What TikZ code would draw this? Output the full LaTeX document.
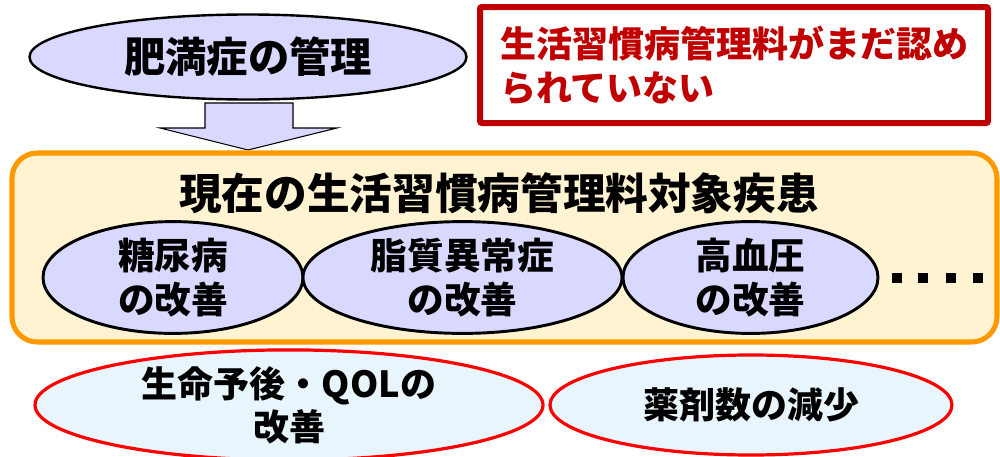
\documentclass[tikz,border=0pt]{standalone}
\usepackage{fontspec}
\setmainfont{Noto Sans CJK JP}
\usetikzlibrary{shapes.geometric}
\definecolor{lav}{HTML}{D9D9FF}
\definecolor{lblue}{HTML}{E8F5FD}
\definecolor{obord}{HTML}{FF9900}
\definecolor{ofill}{HTML}{FFF3D1}
\definecolor{dred}{HTML}{C00000}
\definecolor{bred}{HTML}{FF0000}
\begin{document}
\begin{tikzpicture}[x=0.75pt,y=-0.75pt,
  topell/.style={ellipse,draw=black,line width=1.8pt,fill=lav,inner sep=0pt,
    font=\fontsize{31}{36}\selectfont\bfseries},
  midell/.style={ellipse,draw=black,line width=2.2pt,fill=lav,inner sep=0pt,
    minimum height=105*0.75pt,align=center,
    font=\fontsize{27.5}{33}\selectfont\bfseries},
  botell/.style={ellipse,draw=bred,line width=2.4pt,fill=lblue,inner sep=0pt,
    minimum height=100*0.75pt,align=center,
    font=\fontsize{27}{32.5}\selectfont\bfseries},
  notebox/.style={rectangle,draw=dred,line width=4.5pt,fill=white,inner sep=0pt,
    rounded corners=1.5pt,align=left,text=dred,
    font=\fontsize{27}{33}\selectfont\bfseries},
  groupbox/.style={rectangle,draw=obord,line width=3.8pt,fill=ofill,
    rounded corners=19pt,inner sep=0pt},
  dotsq/.style={rectangle,fill=black,inner sep=0pt,minimum size=10*0.75pt},
  blockarrow/.style={draw=black,line width=0.8pt,fill=lav}
]
\useasboundingbox (0,0) rectangle (1000,457);

% top ellipse
\node[topell,minimum width=437*0.75pt,minimum height=85*0.75pt] (obes) at (248,57) {肥満症の管理};

% red note
\node[notebox,minimum width=508*0.75pt,minimum height=116*0.75pt] (note) at (734,65)
  {生活習慣病管理料がまだ認め\\られていない};

% block arrow
\draw[blockarrow] (205,103) -- (293,103) -- (293,128) -- (337,128) -- (248,150)
  -- (160,128) -- (205,128) -- cycle;

% group box
\node[groupbox,minimum width=985*0.75pt,minimum height=189*0.75pt] (grp) at (504.5,247.5) {};
\node[font=\fontsize{32}{38}\selectfont\bfseries,inner sep=0pt] (title) at (499,193)
  {現在の生活習慣病管理料対象疾患};

% disease ellipses
\node[midell,minimum width=260*0.75pt] (dm) at (173,277.5) {糖尿病\\の改善};
\node[midell,minimum width=319*0.75pt] (dl) at (462.5,277.5) {脂質異常症\\の改善};
\node[midell,minimum width=255*0.75pt] (ht) at (750.5,277.5) {高血圧\\の改善};

% dots
\node[dotsq] (d1) at (897,278) {};
\node[dotsq] (d2) at (923,278) {};
\node[dotsq] (d3) at (951,278) {};
\node[dotsq] (d4) at (978,278) {};

% bottom ellipses
\node[botell,minimum width=508*0.75pt] (qol) at (289,405) {生命予後・QOLの\\改善};
\node[botell,minimum width=402*0.75pt] (drug) at (751,405) {薬剤数の減少};
\end{tikzpicture}
\end{document}
